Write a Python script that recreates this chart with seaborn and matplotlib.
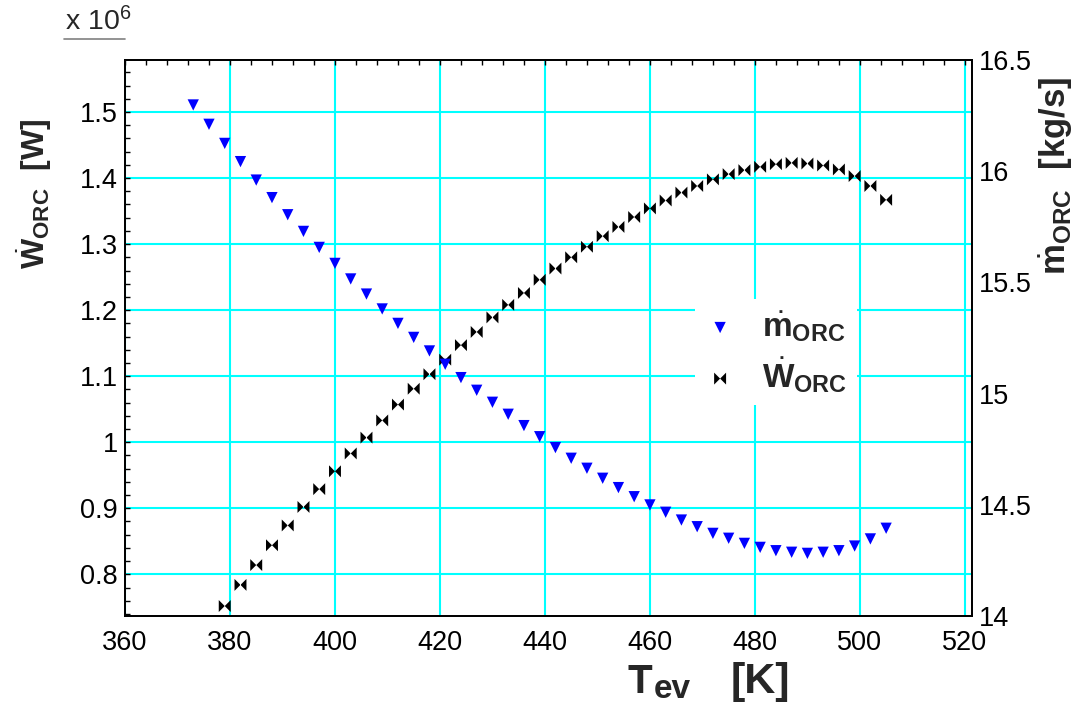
import matplotlib
matplotlib.use("Agg")
import matplotlib.pyplot as plt
import seaborn as sns
import pandas as pd
from matplotlib.path import Path
from matplotlib.ticker import MultipleLocator, FixedLocator, FixedFormatter
from matplotlib.lines import Line2D

# ---------------- data ----------------
t_mdot = [373, 376, 379, 382, 385, 388, 391, 394, 397, 400,
          403, 406, 409, 412, 415, 418, 421, 424, 427, 430,
          433, 436, 439, 442, 445, 448, 451, 454, 457, 460,
          463, 466, 469, 472, 475, 478, 481, 484, 487, 490,
          493, 496, 499, 502, 505]
mdot_orc = [16.299, 16.212, 16.126, 16.044, 15.961, 15.882, 15.805, 15.730, 15.658, 15.586,
            15.516, 15.448, 15.381, 15.316, 15.253, 15.192, 15.132, 15.072, 15.015, 14.961,
            14.907, 14.856, 14.806, 14.757, 14.709, 14.664, 14.619, 14.577, 14.536, 14.499,
            14.466, 14.431, 14.401, 14.371, 14.349, 14.326, 14.308, 14.293, 14.286, 14.281,
            14.286, 14.293, 14.314, 14.346, 14.394]

t_wdot = [379, 382, 385, 388, 391, 394, 397, 400, 403, 406,
          409, 412, 415, 418, 421, 424, 427, 430, 433, 436,
          439, 442, 445, 448, 451, 454, 457, 460, 463, 466,
          469, 472, 475, 478, 481, 484, 487, 490, 493, 496,
          499, 502, 505]
wdot_orc_1e6 = [0.752, 0.784, 0.814, 0.844, 0.874, 0.902, 0.929, 0.956, 0.983, 1.007,
                1.033, 1.057, 1.081, 1.103, 1.125, 1.147, 1.167, 1.189, 1.208, 1.226,
                1.246, 1.263, 1.280, 1.296, 1.312, 1.326, 1.341, 1.354, 1.366, 1.378,
                1.388, 1.398, 1.406, 1.412, 1.417, 1.421, 1.423, 1.422, 1.419, 1.413,
                1.403, 1.388, 1.367]

x_ticks = [360, 380, 400, 420, 440, 460, 480, 500, 520]
x_tick_labels = ["360", "380", "400", "420", "440", "460", "480", "500", "520"]
left_ticks = [0.8, 0.9, 1.0, 1.1, 1.2, 1.3, 1.4, 1.5]
left_tick_labels = ["0.8", "0.9", "1", "1.1", "1.2", "1.3", "1.4", "1.5"]
right_ticks = [14, 14.5, 15, 15.5, 16, 16.5]
right_tick_labels = ["14", "14.5", "15", "15.5", "16", "16.5"]

label_m = r"$\dot{\mathbf{m}}_{\mathbf{ORC}}$"
label_w = r"$\dot{\mathbf{W}}_{\mathbf{ORC}}$"
xlabel_main, xlabel_sub, xlabel_unit = "T", "ev", "[K]"

# ---------------- style ----------------
sns.set_style("white")
plt.rcParams["font.family"] = ["Liberation Sans", "DejaVu Sans"]
plt.rcParams["mathtext.fontset"] = "custom"
plt.rcParams["mathtext.rm"] = "Liberation Sans"
plt.rcParams["mathtext.it"] = "Liberation Sans:italic"
plt.rcParams["mathtext.bf"] = "Liberation Sans:bold"
plt.rcParams["axes.unicode_minus"] = False

GRID = "#00FFFF"
BLUE = "#0000FF"

fig = plt.figure(figsize=(10.78, 7.05), dpi=100)
ax = fig.add_axes([125 / 1078, 1 - 615.8 / 705, (971.7 - 125) / 1078, (615.8 - 60.3) / 705])
ax2 = ax.twinx()

bowtie = Path(
    [(-1, -1), (-1, 1), (0, 0), (-1, -1), (1, -1), (1, 1), (0, 0), (1, -1)],
    [Path.MOVETO, Path.LINETO, Path.LINETO, Path.CLOSEPOLY,
     Path.MOVETO, Path.LINETO, Path.LINETO, Path.CLOSEPOLY],
)

df_w = pd.DataFrame({"T": t_wdot, "W": wdot_orc_1e6})
df_m = pd.DataFrame({"T": t_mdot, "M": mdot_orc})

sns.scatterplot(data=df_w, x="T", y="W", ax=ax, marker=bowtie, s=74, color="black",
                edgecolor="none", linewidth=0, label=label_w, zorder=3, legend=False)
sns.scatterplot(data=df_m, x="T", y="M", ax=ax2, marker="v", s=66, color=BLUE,
                edgecolor="none", linewidth=0, label=label_m, zorder=3, legend=False)

# ---------------- axes ----------------
ax.set_xlim(360, 521.3)
ax.set_ylim(0.7372, 1.5783)
ax2.set_ylim(14, 16.5)

ax.xaxis.set_major_locator(FixedLocator(x_ticks))
ax.xaxis.set_major_formatter(FixedFormatter(x_tick_labels))
ax.xaxis.set_minor_locator(MultipleLocator(4))
ax.yaxis.set_major_locator(FixedLocator(left_ticks))
ax.yaxis.set_major_formatter(FixedFormatter(left_tick_labels))
ax.yaxis.set_minor_locator(MultipleLocator(0.02))
ax2.yaxis.set_major_locator(FixedLocator(right_ticks))
ax2.yaxis.set_major_formatter(FixedFormatter(right_tick_labels))

ax.set_axisbelow(True)
ax.grid(True, which="major", color=GRID, linewidth=1.5)
ax2.grid(False)

ax.tick_params(axis="both", which="both", direction="in", length=3.6, width=1,
               colors="black", labelsize=19.5, top=True, right=False)
ax.tick_params(axis="x", which="both", pad=10)
ax.tick_params(axis="y", which="both", pad=5)
ax2.tick_params(axis="y", which="both", length=0, labelsize=19.5, pad=5, colors="black")

for a in (ax, ax2):
    for sp in a.spines.values():
        sp.set_color("black")
        sp.set_linewidth(1.3)
        sp.set_visible(True)

ax.set_xlabel("")

ax.set_ylabel(label_w + "  [W]", fontsize=23, fontweight="bold")
ax.yaxis.set_label_coords((34 - 125) / 846.7, (615.8 - 194) / 555.5)
ax.yaxis.label.set_va("center")
ax.yaxis.label.set_ha("center")

ax2.set_ylabel(label_m + "  [kg/s]", fontsize=25, fontweight="bold", rotation=90)
ax2.yaxis.set_label_coords((1056 - 125) / 846.7, (615.8 - 176) / 555.5)
ax2.yaxis.label.set_va("center")
ax2.yaxis.label.set_ha("center")

# scale note
fig.text(65 / 1078, 1 - 22 / 705, r"x 10$^{6}$", fontsize=20.5, ha="left", va="center")
fig.add_artist(Line2D([64 / 1078, 125 / 1078], [1 - 38.7 / 705, 1 - 38.7 / 705],
                      color="#808080", linewidth=1.2))

# legend
h1, l1 = ax.get_legend_handles_labels()
h2, l2 = ax2.get_legend_handles_labels()
leg = ax2.legend(h2 + h1, l2 + l1, loc="center", bbox_to_anchor=(776 / 1078, 1 - 352 / 705),
                 bbox_transform=fig.transFigure, fontsize=24, frameon=True, fancybox=False,
                 facecolor="white", edgecolor="none", framealpha=1, handlelength=0.9,
                 handletextpad=0.8, labelspacing=0.35, scatterpoints=1, borderpad=0.3)

# x label built from pieces (large subscript as in the original)
fig.canvas.draw()
rend = fig.canvas.get_renderer()
FW, FH = fig.bbox.width, fig.bbox.height
base_y = 1 - 693 / 705
tT = fig.text(628 / FW, base_y, xlabel_main, fontsize=29, fontweight="bold",
              ha="left", va="baseline")
x_end = tT.get_window_extent(rend).x1
tE = fig.text((x_end + 1) / FW, base_y - 5 / FH, xlabel_sub, fontsize=24, fontweight="bold",
              ha="left", va="baseline")
tK = fig.text(731 / FW, base_y, xlabel_unit, fontsize=31, fontweight="bold",
              ha="left", va="baseline")

fig.savefig("out.png", dpi=100)
